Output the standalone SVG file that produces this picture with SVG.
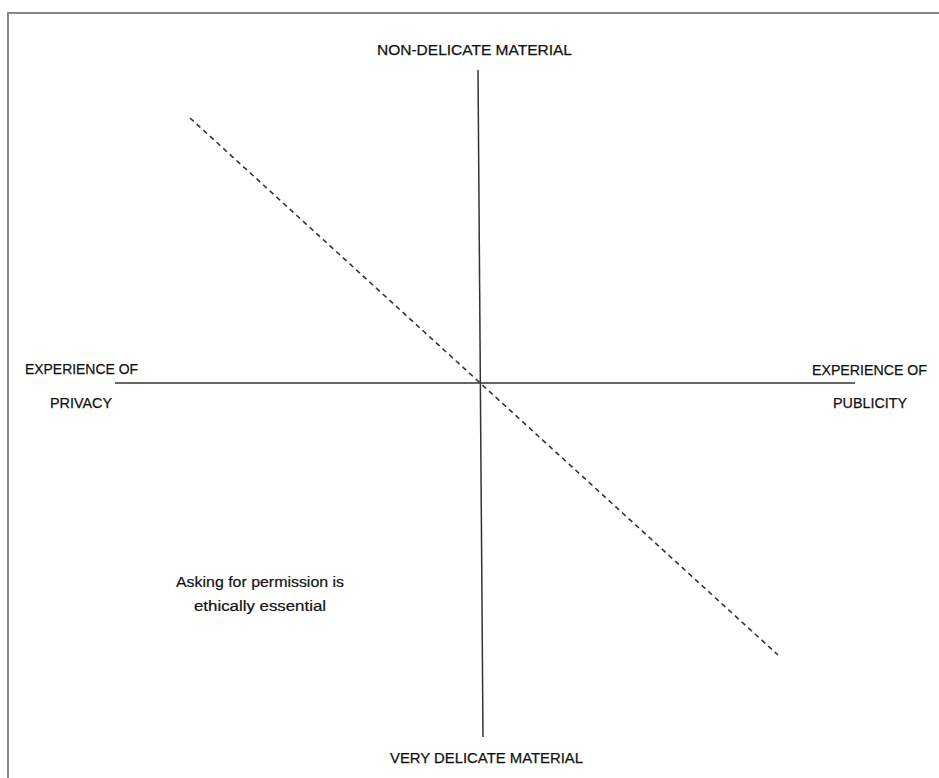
<svg xmlns="http://www.w3.org/2000/svg" width="939" height="778" viewBox="0 0 939 778">
<style>
.lbl{font-family:"Liberation Sans",Arial,sans-serif;font-size:15px;fill:#111;stroke:#111;stroke-width:0.25}
.note{font-family:"Liberation Sans",Arial,sans-serif;font-size:15px;fill:#111;stroke:#111;stroke-width:0.2;text-anchor:middle}
.axis{stroke:#333;stroke-width:1.5;fill:none}
.dash{stroke:#333;stroke-width:1.6;stroke-dasharray:5 4;fill:none}
</style>
<rect width="939" height="778" fill="#fff"/>
<path d="M8,778 V13 H939" fill="none" stroke="#888" stroke-width="2"/>
<g id="connectors">
<line class="axis" x1="478" y1="70" x2="483" y2="737"/>
<line class="axis" x1="115" y1="383" x2="855" y2="383"/>
<line class="dash" x1="190" y1="118" x2="778" y2="655"/>
</g>
<g id="top-label"><text class="lbl" x="377" y="55" textLength="195" lengthAdjust="spacingAndGlyphs">NON-DELICATE MATERIAL</text></g>
<g id="bottom-label"><text class="lbl" x="390" y="763" textLength="193" lengthAdjust="spacingAndGlyphs">VERY DELICATE MATERIAL</text></g>
<g id="left-label">
<text class="lbl" x="25" y="374" textLength="113" lengthAdjust="spacingAndGlyphs">EXPERIENCE OF</text>
<text class="lbl" x="50" y="408" textLength="62" lengthAdjust="spacingAndGlyphs">PRIVACY</text>
</g>
<g id="right-label">
<text class="lbl" x="812" y="375" textLength="115" lengthAdjust="spacingAndGlyphs">EXPERIENCE OF</text>
<text class="lbl" x="833" y="408" textLength="74" lengthAdjust="spacingAndGlyphs">PUBLICITY</text>
</g>
<g id="note">
<text class="note" x="260" y="587" textLength="168" lengthAdjust="spacingAndGlyphs">Asking for permission is</text>
<text class="note" x="260" y="611" textLength="132" lengthAdjust="spacingAndGlyphs">ethically essential</text>
</g>
</svg>
